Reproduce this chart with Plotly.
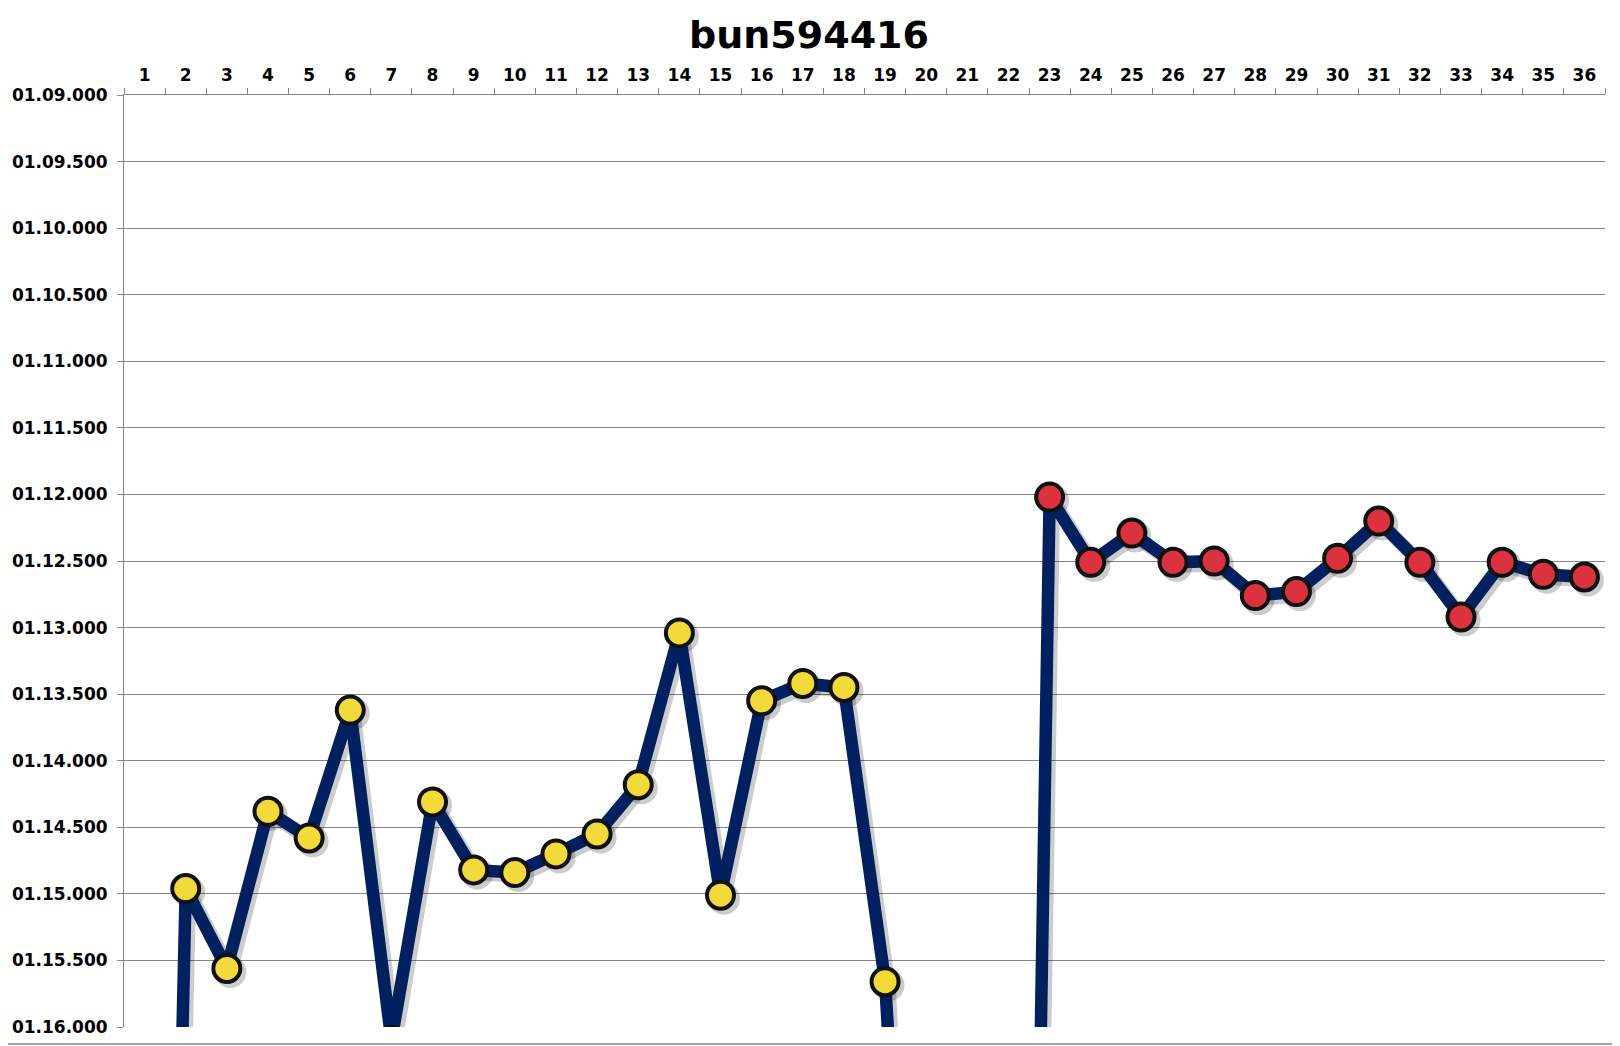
import plotly.graph_objects as go

laps = [str(i) for i in range(1, 37)]
lap_times = [
    88.5, 74.96, 75.56, 74.38, 74.58, 73.62, 76.1, 74.31, 74.82, 74.84,
    74.70, 74.55, 74.18, 73.04, 75.01, 73.55, 73.42, 73.45, 75.66, 82.8,
    86.0, 90.8, 72.02, 72.51, 72.29, 72.51, 72.50, 72.76, 72.73, 72.48,
    72.20, 72.51, 72.92, 72.51, 72.60, 72.62,
]
stint = [1] * 22 + [2] * 14
y_tick_vals = [69.0, 69.5, 70.0, 70.5, 71.0, 71.5, 72.0, 72.5, 73.0, 73.5,
               74.0, 74.5, 75.0, 75.5, 76.0]
y_tick_text = ["01.09.000", "01.09.500", "01.10.000", "01.10.500", "01.11.000",
               "01.11.500", "01.12.000", "01.12.500", "01.13.000", "01.13.500",
               "01.14.000", "01.14.500", "01.15.000", "01.15.500", "01.16.000"]

stint_colors = {1: "#F2DA3A", 2: "#DC3240"}
marker_colors = [stint_colors[s] for s in stint]

# page body has an 8px margin, so the figure is sized to fit inside it
OFF = 8
W, H = 1620 - OFF, 1046 - OFF
ml, mr, mt, mb = 124 - OFF, 15, 95 - OFF, 19
pw, ph = W - ml - mr, H - mt - mb

y_lo, y_hi = 76.0, 69.0
x_lo, x_hi = -0.5, 35.5
shadow_px = 3.5
dx = shadow_px * (x_hi - x_lo) / pw
dy = shadow_px * (y_lo - y_hi) / ph

font_main = dict(family="DejaVu Sans", color="#000000", weight="bold")

fig = go.Figure()
# shadow (on hidden base axes with shifted ranges)
fig.add_trace(go.Scatter(
    x=laps, y=lap_times, mode="lines+markers", xaxis="x", yaxis="y",
    line=dict(color="rgba(0,0,0,0.20)", width=14),
    marker=dict(size=32, color="rgba(0,0,0,0.20)", line=dict(width=0)),
    hoverinfo="skip",
))
# main series
fig.add_trace(go.Scatter(
    x=laps, y=lap_times, mode="lines+markers", xaxis="x2", yaxis="y2",
    line=dict(color="#002060", width=12.5),
    marker=dict(size=27, color=marker_colors, line=dict(color="#111111", width=4)),
    hoverinfo="x+y",
))

fig.update_layout(
    width=W, height=H,
    margin=dict(l=ml, r=mr, t=mt, b=mb, pad=0, autoexpand=False),
    paper_bgcolor="white", plot_bgcolor="white",
    showlegend=False,
    title=dict(text="bun594416", x=(809 - OFF) / W, xref="container", xanchor="center",
               y=1 - (35 - OFF) / H, yref="container", yanchor="middle",
               font=dict(size=38, **font_main), automargin=False),
    xaxis=dict(type="category", range=[x_lo - dx, x_hi - dx], visible=False,
               showgrid=False, zeroline=False, automargin=False),
    yaxis=dict(range=[y_lo - dy, y_hi - dy], visible=False,
               showgrid=False, zeroline=False, automargin=False),
    xaxis2=dict(
        type="category", overlaying="x", side="top", tickson="boundaries",
        ticks="outside", ticklen=6, tickcolor="#868686",
        showline=True, linecolor="#868686", linewidth=1,
        showgrid=False, zeroline=False, ticklabelstandoff=6,
        tickfont=dict(size=17, **font_main), automargin=False,
        range=[x_lo, x_hi],
    ),
    yaxis2=dict(
        overlaying="y", side="left",
        range=[y_lo, y_hi], tickvals=y_tick_vals, ticktext=y_tick_text,
        ticks="outside", ticklen=6, tickcolor="#868686",
        showline=True, linecolor="#868686", linewidth=1,
        showgrid=True, gridcolor="#868686", gridwidth=1,
        zeroline=False, ticklabelstandoff=6, automargin=False,
        tickfont=dict(size=17, **font_main),
    ),
)

# outer chart border (right and bottom edges that fall inside the figure)
fig.add_shape(type="rect", xref="paper", yref="paper",
              x0=(-OFF - ml) / pw, x1=(W - 2 - ml) / pw,
              y0=-(mb - 2) / ph, y1=(H - mb + OFF) / ph,
              line=dict(color="#868686", width=1.5), layer="below")

fig.write_html("out.html")
